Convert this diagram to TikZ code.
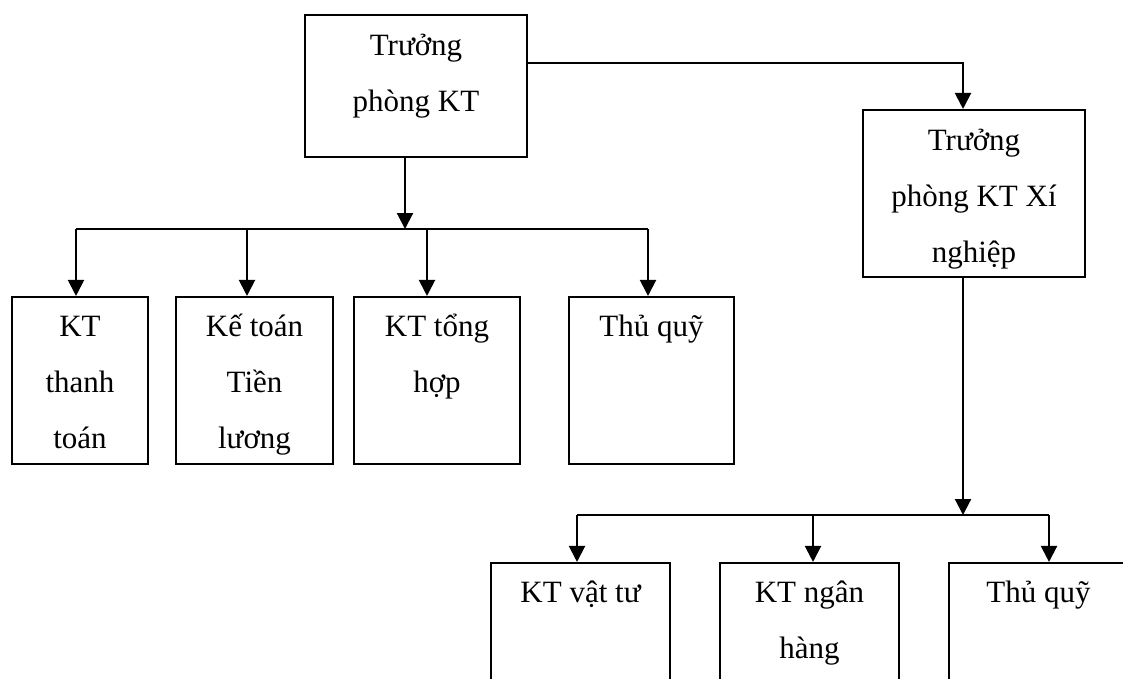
\documentclass[tikz,border=0pt]{standalone}
\usepackage{fontspec}
\setmainfont{Liberation Serif}
\usetikzlibrary{arrows.meta}
\begin{document}
\begin{tikzpicture}[x=1pt, y=-1pt, line width=2.1pt,
    box/.style={draw, rectangle, inner sep=0pt, minimum height=167pt},
    txt/.style={anchor=north, inner sep=0pt, align=center, font=\fontsize{31}{56}\selectfont},
    arr/.style={-{Triangle[length=16pt, width=16pt]}}]
  \clip (0,0) rectangle (1123,678);

  \node[box, minimum width=222pt, minimum height=142pt] (tpkt) at (416,86) {};
  \node[box, minimum width=222pt] (tpxn) at (974,193.5) {};

  \node[box, minimum width=136pt] (kttt) at (80,380.5) {};
  \node[box, minimum width=157pt] (ktl) at (254.5,380.5) {};
  \node[box, minimum width=166pt] (ktth) at (437,380.5) {};
  \node[box, minimum width=165pt] (tq) at (651.5,380.5) {};

  \node[box, minimum width=179pt] (ktvt) at (580.5,646.5) {};
  \node[box, minimum width=179pt] (ktnh) at (809.5,646.5) {};
  \node[box, minimum width=179pt] (tqxn) at (1038.5,646.5) {};

  \node[txt] (tpkt-t) at ([yshift=-1pt]tpkt.north) {\strut Trưởng\\phòng KT};
  \node[txt] (tpxn-t) at ([yshift=-1pt]tpxn.north) {\strut Trưởng\\phòng KT Xí\\nghiệp};
  \node[txt] (kttt-t) at ([yshift=0pt]kttt.north) {\strut KT\\thanh\\toán};
  \node[txt] (ktl-t) at ([yshift=0pt]ktl.north) {\strut Kế toán\\Tiền\\lương};
  \node[txt] (ktth-t) at ([yshift=0pt]ktth.north) {\strut KT tổng\\hợp};
  \node[txt] (tq-t) at ([yshift=0pt]tq.north) {\strut Thủ quỹ};
  \node[txt] (ktvt-t) at ([yshift=0pt]ktvt.north) {\strut KT vật tư};
  \node[txt] (ktnh-t) at ([yshift=0pt]ktnh.north) {\strut KT ngân\\hàng};
  \node[txt] (tqxn-t) at ([yshift=0pt]tqxn.north) {\strut Thủ quỹ};

  \coordinate (b0) at (405,229);
  \coordinate (b1) at (76,229);
  \coordinate (b2) at (247,229);
  \coordinate (b3) at (427,229);
  \coordinate (b4) at (648,229);
  \coordinate (c1) at (963,63);
  \coordinate (d0) at (963,515);
  \coordinate (d1) at (577,515);
  \coordinate (d2) at (813,515);
  \coordinate (d3) at (1049,515);

  \draw[arr] (tpkt.south -| b0) -- (b0);
  \draw (b1) -- (b4);
  \draw[arr] (b1) -- (b1 |- kttt.north);
  \draw[arr] (b2) -- (b2 |- ktl.north);
  \draw[arr] (b3) -- (b3 |- ktth.north);
  \draw[arr] (b4) -- (b4 |- tq.north);

  \draw[arr] (c1 -| tpkt.east) -- (c1) -- (c1 |- tpxn.north);

  \draw[arr] (tpxn.south -| d0) -- (d0);
  \draw (d1) -- (d3);
  \draw[arr] (d1) -- (d1 |- ktvt.north);
  \draw[arr] (d2) -- (d2 |- ktnh.north);
  \draw[arr] (d3) -- (d3 |- tqxn.north);
\end{tikzpicture}
\end{document}
